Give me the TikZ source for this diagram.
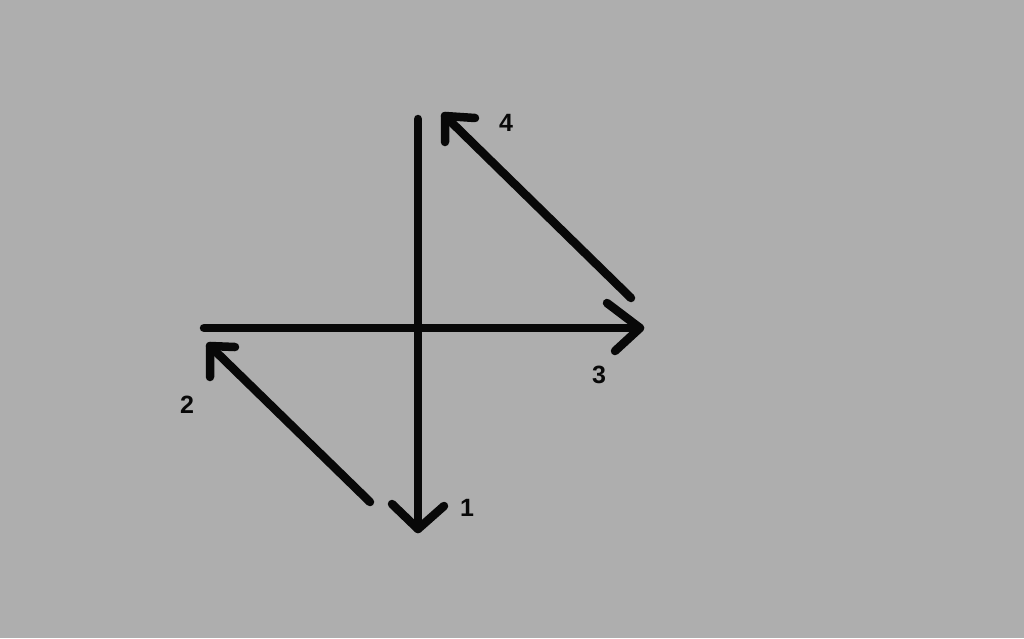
\documentclass[tikz,border=0pt]{standalone}
\usepackage{fontspec}
\setmainfont{Liberation Sans}
\definecolor{bg}{HTML}{AEAEAE}
\definecolor{ink}{HTML}{080808}
\tikzset{
  stroke/.style={draw=ink, line width=8.5pt, line cap=round, line join=round},
  lbl/.style={font=\bfseries\fontsize{25}{29}\selectfont, text=ink, inner sep=0pt}
}
\begin{document}
\begin{tikzpicture}[x=1pt,y=-1pt]
\fill[bg] (0,0) rectangle (1024,638);
\useasboundingbox (0,0) rectangle (1024,638);
% vertical line with arrow down (1)
\coordinate (vtop) at (418,119);
\coordinate (vbot) at (418,529);
\coordinate (vaL) at (392,504);
\coordinate (vaR) at (444,506);
\draw[stroke] (vtop) -- (vbot);
\draw[stroke] (vaL) -- (vbot) -- (vaR);
% horizontal line with arrow right (3)
\coordinate (hl) at (204,328);
\coordinate (hr) at (640,328);
\coordinate (haU) at (607,303);
\coordinate (haD) at (615,351);
\draw[stroke] (hl) -- (hr);
\draw[stroke] (haU) -- (hr) -- (haD);
% diagonal to 2
\coordinate (d2s) at (370,502);
\coordinate (d2e) at (210,346);
\coordinate (d2a) at (210,377);
\coordinate (d2b) at (235,347);
\draw[stroke] (d2s) -- (d2e);
\draw[stroke] (d2a) -- (d2e) -- (d2b);
% diagonal to 4
\coordinate (d4s) at (631,298);
\coordinate (d4e) at (445,116);
\coordinate (d4a) at (445,142);
\coordinate (d4b) at (475,118);
\draw[stroke] (d4s) -- (d4e);
\draw[stroke] (d4a) -- (d4e) -- (d4b);
% labels
\node[lbl] (l1) at (467,508) {1};
\node[lbl] (l2) at (187,405) {2};
\node[lbl] (l3) at (599,375) {3};
\node[lbl] (l4) at (506,123) {4};
\end{tikzpicture}
\end{document}
